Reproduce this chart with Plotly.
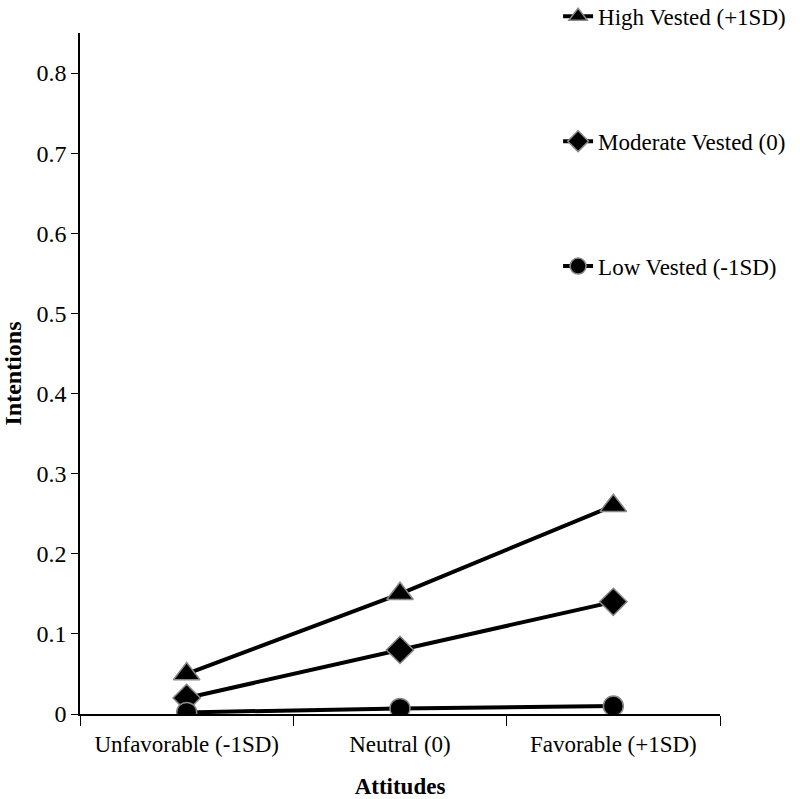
import plotly.graph_objects as go

categories = ["Unfavorable (-1SD)", "Neutral (0)", "Favorable (+1SD)"]
high_vested = [0.05, 0.15, 0.26]
moderate_vested = [0.02, 0.08, 0.14]
low_vested = [0.002, 0.007, 0.01]
series_names = ["High Vested (+1SD)", "Moderate Vested (0)", "Low Vested (-1SD)"]
y_ticks = [0, 0.1, 0.2, 0.3, 0.4, 0.5, 0.6, 0.7, 0.8]

FONT = "Liberation Serif, Times New Roman, serif"

fig = go.Figure()
specs = [
    (series_names[0], high_vested, "triangle-up", 23),
    (series_names[1], moderate_vested, "diamond", 21),
    (series_names[2], low_vested, "circle", 20),
]
for i, (name, vals, sym, size) in enumerate(specs):
    fig.add_trace(go.Scatter(
        x=categories, y=vals, name=name, mode="lines+markers",
        line=dict(color="black", width=4),
        marker=dict(symbol=sym, size=size, color="black",
                    line=dict(color="#888888", width=1.5)),
        legendgroup=f"g{i}",
    ))

fig.update_layout(
    width=800, height=799,
    paper_bgcolor="white", plot_bgcolor="white",
    margin=dict(l=80, r=80, t=33, b=85, autoexpand=False),
    font=dict(family=FONT, size=23, color="black"),
    showlegend=True,
    legend=dict(x=0.747, y=1.056, xanchor="left", yanchor="top",
                bgcolor="rgba(0,0,0,0)", tracegroupgap=92,
                font=dict(family=FONT, size=23, color="black"),
                itemwidth=30),
    xaxis=dict(
        type="category", tickson="boundaries", ticks="outside", ticklen=10,
        tickcolor="black", showline=True, linecolor="black", linewidth=1.5,
        showgrid=False, zeroline=False, range=[-0.5, 2.5], automargin=False,
        ticklabelstandoff=9,
        title=dict(text="<b>Attitudes</b>", font=dict(family=FONT, size=23), standoff=28),
        tickfont=dict(family=FONT, size=23),
    ),
    yaxis=dict(
        range=[0, 0.85], tickvals=y_ticks, ticktext=[("0" if v == 0 else f"{v:.1f}") for v in y_ticks],
        ticks="outside", ticklen=7, tickcolor="black", showline=True, linecolor="black",
        linewidth=1.5, showgrid=False, zeroline=False, automargin=False,
        title=dict(text="<b>Intentions</b>", font=dict(family=FONT, size=24), standoff=20),
        tickfont=dict(family=FONT, size=24),
    ),
)

fig.write_html("out.html", config={"displayModeBar": False},
               post_script="document.body.style.margin='0';")
